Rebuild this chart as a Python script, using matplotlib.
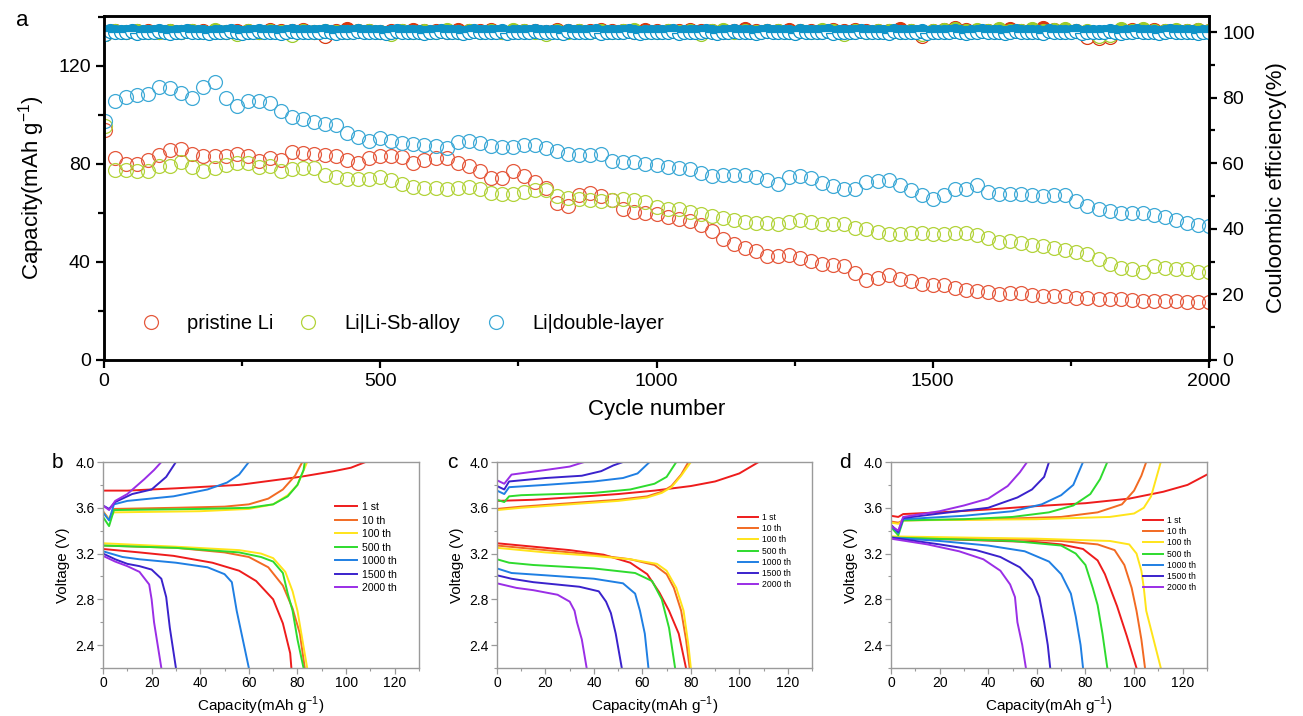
import matplotlib
matplotlib.use("Agg")
import matplotlib.pyplot as plt
import numpy as np
from matplotlib.ticker import MultipleLocator, FormatStrFormatter

plt.rcParams['font.family'] = ['Liberation Sans', 'DejaVu Sans']
plt.rcParams['mathtext.fontset'] = 'custom'
plt.rcParams['mathtext.rm'] = 'Liberation Sans'

# ---------------- panel a: cycling data ----------------
cycles = np.r_[2, np.arange(20, 2001, 20)]
cycles_fine = np.r_[2, np.arange(10, 2001, 10)]

cap_pristine = [
    94.0, 82.6, 80.0, 80.0, 81.5, 83.5, 85.5, 86.3, 84.0, 83.3,
    83.3, 83.3, 84.0, 83.3, 81.2, 82.3, 81.5, 85.0, 84.3, 84.0,
    83.8, 83.1, 81.8, 80.5, 82.6, 83.3, 83.3, 83.0, 80.5, 81.5,
    82.3, 82.4, 80.5, 79.0, 77.1, 74.4, 74.4, 77.0, 75.0, 72.6,
    70.3, 64.2, 63.0, 67.4, 68.3, 67.0, 65.2, 61.5, 60.5, 60.0,
    59.5, 58.5, 57.7, 56.8, 55.0, 52.5, 49.5, 47.3, 45.6, 44.5,
    42.3, 42.6, 42.8, 41.6, 40.4, 39.2, 38.6, 38.2, 35.5, 32.8,
    33.5, 34.5, 33.2, 32.2, 31.2, 30.5, 30.6, 29.3, 28.6, 28.2,
    27.6, 26.8, 27.2, 27.4, 26.6, 26.1, 26.1, 26.0, 25.5, 25.1,
    24.7, 24.7, 24.7, 24.3, 24.1, 24.1, 24.1, 23.9, 23.8, 23.8, 23.8]

cap_alloy = [
    95.5, 77.5, 77.5, 77.1, 77.1, 79.0, 79.2, 81.0, 78.7, 77.1,
    78.3, 79.6, 80.5, 80.5, 78.6, 79.0, 77.3, 77.8, 78.5, 78.5,
    75.5, 74.6, 74.0, 73.7, 74.0, 74.6, 73.6, 71.9, 70.6, 70.3,
    70.0, 69.8, 70.3, 70.5, 69.6, 68.3, 67.9, 67.6, 68.6, 69.4,
    69.3, 67.0, 66.2, 65.7, 65.3, 64.9, 65.3, 65.6, 65.2, 64.6,
    62.5, 61.5, 61.5, 60.5, 59.5, 58.8, 57.9, 57.0, 56.5, 56.1,
    55.8, 55.4, 56.2, 57.2, 56.3, 55.4, 55.4, 55.4, 53.9, 53.4,
    52.3, 51.5, 51.6, 52.0, 52.0, 51.4, 51.3, 51.8, 51.8, 51.1,
    49.8, 48.0, 48.4, 47.7, 46.9, 46.4, 45.8, 44.7, 44.0, 43.1,
    41.4, 39.3, 37.7, 37.1, 35.8, 38.3, 37.6, 37.0, 37.0, 36.0, 35.8]

cap_double = [
    97.5, 105.5, 107.5, 108.0, 108.5, 111.5, 111.0, 109.0, 107.0, 111.5,
    113.5, 107.0, 103.5, 105.5, 105.5, 104.8, 101.5, 99.0, 98.5, 97.0,
    96.5, 96.0, 92.8, 91.0, 89.4, 90.5, 89.5, 88.7, 88.2, 87.7,
    87.3, 86.5, 88.8, 89.5, 88.5, 87.3, 87.0, 87.0, 87.8, 87.8,
    86.5, 85.3, 84.2, 83.8, 83.5, 84.0, 81.2, 81.0, 80.7, 80.1,
    79.5, 78.6, 78.3, 78.0, 76.5, 75.1, 75.5, 75.6, 75.3, 74.8,
    73.3, 71.8, 74.7, 75.0, 74.3, 72.2, 71.2, 69.8, 69.6, 72.8,
    73.0, 73.5, 71.5, 69.3, 67.5, 65.8, 67.5, 69.7, 69.7, 71.5,
    68.6, 67.8, 67.6, 67.6, 67.3, 67.0, 67.3, 67.3, 64.8, 63.0,
    61.6, 60.8, 60.1, 60.1, 60.0, 59.2, 58.4, 57.2, 55.8, 55.0, 54.6]

ce_pristine = [
    99.4, 100.3, 100.1, 100.4, 100.2, 100.0, 100.3, 100.1, 100.4, 100.2,
    100.3, 100.0, 100.2, 100.4, 100.1, 100.6, 100.3, 100.2, 100.7, 100.1,
    98.8, 100.4, 100.8, 100.3, 100.2, 100.1, 100.4, 100.2, 100.5, 100.3,
    100.2, 100.1, 100.5, 100.3, 100.2, 100.6, 100.0, 100.3, 100.2, 100.4,
    100.1, 100.5, 100.3, 100.2, 100.4, 100.6, 100.2, 100.3, 100.1, 100.5,
    100.2, 100.4, 100.3, 100.7, 100.2, 100.4, 100.1, 100.3, 100.8, 100.2,
    100.4, 100.3, 100.6, 100.2, 100.4, 100.3, 100.5, 100.2, 100.6, 100.3,
    100.4, 100.2, 100.9, 100.3, 98.9, 100.4, 100.6, 101.3, 100.5, 100.4,
    100.3, 100.5, 101.0, 100.4, 100.6, 101.4, 100.5, 100.3, 100.4, 98.4,
    98.2, 98.6, 100.4, 100.6, 100.3, 100.5, 100.2, 100.4, 100.3, 100.6, 100.4]

ce_alloy = [
    99.3, 100.2, 100.0, 100.3, 100.1, 99.9, 100.2, 100.0, 100.3, 100.1,
    100.6, 100.1, 99.3, 100.2, 100.0, 100.3, 100.1, 99.2, 100.2, 100.0,
    100.3, 100.1, 99.9, 100.2, 100.4, 100.0, 99.3, 100.2, 100.1, 100.3,
    100.0, 100.5, 100.1, 100.2, 99.9, 100.3, 100.0, 100.6, 100.2, 100.1,
    99.3, 100.2, 100.0, 100.4, 100.1, 100.3, 100.0, 100.2, 100.5, 100.1,
    100.0, 100.3, 100.1, 100.4, 99.4, 100.2, 100.6, 100.1, 100.3, 100.0,
    100.2, 100.4, 100.1, 100.3, 100.0, 100.5, 100.2, 99.3, 100.3, 100.1,
    100.4, 100.2, 100.0, 100.3, 99.4, 100.2, 100.5, 100.9, 100.3, 100.6,
    100.2, 100.8, 100.4, 100.3, 100.9, 100.2, 100.5, 100.8, 100.3, 100.4,
    98.9, 99.0, 100.8, 100.3, 100.9, 100.2, 100.4, 100.7, 100.3, 100.6, 100.4]

# double-layer CE is read every 10 cycles (cycles_fine)
ce_double = [
    99.5, 100.2, 100.0, 99.9, 100.1, 100.2, 99.8, 100.0, 100.1, 99.9, 100.2, 100.0, 99.8, 100.1, 100.0, 100.2, 99.9, 100.1, 100.0, 99.8,
    100.1, 100.0, 99.9, 100.2, 100.0, 99.8, 100.1, 100.0, 100.2, 99.9, 100.0, 100.1, 99.8, 100.0, 100.2, 100.0, 99.9, 100.1, 100.0, 99.9,
    100.2, 100.0, 99.8, 100.1, 100.0, 99.9, 100.2, 100.1, 99.9, 100.0, 100.1, 99.8, 100.0, 100.2, 100.0, 99.9, 100.1, 100.0, 99.8, 100.1,
    100.0, 100.2, 99.9, 100.0, 100.1, 99.8, 100.0, 100.2, 100.0, 99.9, 100.1, 100.0, 100.2, 99.8, 100.0, 100.1, 99.9, 100.0, 100.2, 100.0,
    99.9, 100.1, 100.0, 99.8, 100.2, 100.0, 99.9, 100.1, 100.0, 100.2, 99.8, 100.0, 100.1, 99.9, 100.0, 100.2, 100.0, 99.8, 100.1, 100.0,
    100.1, 99.9, 100.0, 100.2, 99.8, 100.0, 100.1, 100.0, 99.9, 100.2, 100.0, 99.8, 100.1, 100.0, 100.2, 99.9, 100.0, 100.1, 99.8, 100.0,
    100.2, 100.0, 99.9, 100.1, 100.0, 99.8, 100.2, 100.0, 99.9, 100.1, 100.0, 100.2, 99.8, 100.0, 100.1, 99.9, 100.0, 100.2, 100.0, 99.9,
    100.1, 100.0, 99.8, 100.2, 100.0, 99.9, 100.1, 100.0, 100.2, 99.8, 100.0, 100.1, 99.9, 100.0, 100.2, 100.0, 99.8, 100.1, 100.0, 100.2,
    99.9, 100.0, 100.1, 99.8, 100.0, 100.2, 100.0, 99.9, 100.1, 100.0, 99.8, 100.2, 100.0, 99.9, 100.1, 100.0, 100.2, 99.8, 100.0, 100.1,
    99.9, 100.0, 100.2, 100.0, 99.8, 100.1, 100.0, 100.2, 99.9, 100.0, 100.1, 99.8, 100.0, 100.2, 100.0, 99.9, 100.1, 100.0, 99.8, 100.1,
    100.0]

series_names = ['pristine Li', 'Li|Li-Sb-alloy', 'Li|double-layer']
cap_colors = ['#E5593D', '#B3D33B', '#3DA9D6']
ce_colors = ['#D9380F', '#9CCB2A', '#0E93C8']

# ---------------- panels b-d: charge/discharge profiles ----------------
cycle_labels = ['1 st', '10 th', '100 th', '500 th', '1000 th', '1500 th', '2000 th']
curve_colors = ['#EE1C1C', '#F26A22', '#FFE41A', '#2EDB2E', '#1F7FE3', '#3A22CC', '#9A2EE6']

# (capacity, voltage) pairs
b_charge = {
    '1 st': ([0, 10, 30, 56, 81, 95, 102, 108], [3.75, 3.75, 3.77, 3.80, 3.87, 3.92, 3.95, 4.0]),
    '10 th': ([0, 2.5, 4.5, 30, 50, 60, 68, 74, 79, 82], [3.57, 3.50, 3.59, 3.60, 3.61, 3.63, 3.68, 3.76, 3.88, 4.0]),
    '100 th': ([0, 2.5, 4.5, 40, 60, 70, 76, 80, 83, 84], [3.56, 3.50, 3.56, 3.57, 3.59, 3.63, 3.71, 3.80, 3.95, 4.0]),
    '500 th': ([0, 2.5, 4.5, 40, 60, 70, 76, 80, 82.5, 83], [3.52, 3.44, 3.58, 3.59, 3.60, 3.63, 3.70, 3.80, 3.93, 4.0]),
    '1000 th': ([0, 2.5, 4.5, 10, 29, 43, 51, 56, 60], [3.56, 3.49, 3.63, 3.66, 3.70, 3.76, 3.82, 3.89, 4.0]),
    '1500 th': ([0, 2.5, 5, 12, 20, 26, 30], [3.62, 3.59, 3.65, 3.72, 3.76, 3.87, 4.0]),
    '2000 th': ([0, 2.5, 5, 10, 17, 21, 24], [3.62, 3.58, 3.66, 3.72, 3.85, 3.93, 4.0]),
}
b_discharge = {
    '1 st': ([0, 15, 29, 45, 56, 63, 70, 74, 77, 77.5], [3.24, 3.21, 3.18, 3.12, 3.05, 2.96, 2.80, 2.59, 2.33, 2.2]),
    '10 th': ([0, 30, 50, 60, 68, 74, 78, 81, 83], [3.27, 3.25, 3.21, 3.17, 3.08, 2.92, 2.72, 2.50, 2.2]),
    '100 th': ([0, 30, 56, 65, 70, 75, 78, 80, 82, 84], [3.29, 3.26, 3.23, 3.20, 3.16, 3.04, 2.87, 2.70, 2.45, 2.2]),
    '500 th': ([0, 30, 56, 65, 70, 74, 76, 78, 80, 82.5], [3.27, 3.25, 3.21, 3.17, 3.13, 3.03, 2.85, 2.70, 2.45, 2.2]),
    '1000 th': ([0, 8, 15, 30, 43, 50, 53, 55, 57.5, 60], [3.22, 3.17, 3.15, 3.12, 3.08, 3.02, 2.95, 2.70, 2.45, 2.2]),
    '1500 th': ([0, 5, 10, 15, 20, 24, 26, 27.5, 30], [3.20, 3.15, 3.11, 3.09, 3.06, 2.98, 2.82, 2.55, 2.2]),
    '2000 th': ([0, 5, 10, 15, 19, 20, 21, 22.5, 24], [3.18, 3.13, 3.09, 3.04, 2.93, 2.80, 2.60, 2.40, 2.2]),
}

c_charge = {
    '1 st': ([0, 15, 30, 50, 65, 80, 90, 100, 108], [3.66, 3.67, 3.69, 3.72, 3.75, 3.79, 3.83, 3.90, 4.0]),
    '10 th': ([0, 10, 30, 50, 62, 68, 72, 76, 79], [3.59, 3.61, 3.64, 3.67, 3.70, 3.74, 3.79, 3.89, 4.0]),
    '100 th': ([0, 10, 30, 50, 62, 68, 72, 76, 80], [3.58, 3.60, 3.63, 3.66, 3.69, 3.73, 3.78, 3.88, 4.0]),
    '500 th': ([0, 3, 5, 10, 40, 55, 65, 70, 74], [3.67, 3.65, 3.70, 3.71, 3.73, 3.76, 3.81, 3.87, 4.0]),
    '1000 th': ([0, 3, 5, 20, 40, 52, 58, 63], [3.75, 3.72, 3.78, 3.80, 3.83, 3.86, 3.90, 4.0]),
    '1500 th': ([0, 3, 5, 20, 35, 43, 48, 52], [3.79, 3.76, 3.83, 3.86, 3.88, 3.92, 3.97, 4.0]),
    '2000 th': ([0, 3, 6, 20, 30, 36], [3.84, 3.81, 3.89, 3.93, 3.96, 4.0]),
}
c_discharge = {
    '1 st': ([0, 15, 30, 44, 55, 62, 67, 71, 75, 78], [3.29, 3.26, 3.23, 3.19, 3.12, 3.02, 2.86, 2.70, 2.50, 2.2]),
    '10 th': ([0, 20, 40, 55, 65, 70, 73, 76, 78, 79.5], [3.27, 3.23, 3.19, 3.15, 3.10, 3.02, 2.90, 2.70, 2.45, 2.2]),
    '100 th': ([0, 20, 40, 55, 66, 70, 74, 77, 79, 80], [3.25, 3.21, 3.18, 3.15, 3.11, 3.05, 2.90, 2.70, 2.40, 2.2]),
    '500 th': ([0, 5, 15, 40, 57, 64, 68, 71, 73.5], [3.15, 3.12, 3.10, 3.07, 3.03, 2.96, 2.80, 2.55, 2.2]),
    '1000 th': ([0, 6, 20, 40, 52, 57, 59, 61, 62.5], [3.07, 3.03, 3.01, 2.98, 2.94, 2.85, 2.70, 2.50, 2.2]),
    '1500 th': ([0, 6, 15, 34, 42, 45, 47, 49, 51.5], [3.01, 2.98, 2.95, 2.91, 2.87, 2.78, 2.68, 2.50, 2.2]),
    '2000 th': ([0, 8, 15, 25, 30, 32, 33, 35, 37], [2.94, 2.90, 2.88, 2.84, 2.78, 2.70, 2.60, 2.45, 2.2]),
}

d_charge = {
    '1 st': ([0, 3, 5, 20, 40, 60, 80, 98, 112, 122, 130], [3.53, 3.52, 3.545, 3.56, 3.585, 3.615, 3.64, 3.68, 3.74, 3.80, 3.89]),
    '10 th': ([0, 3, 5, 40, 70, 85, 95, 100, 103, 105], [3.48, 3.47, 3.49, 3.50, 3.52, 3.56, 3.63, 3.75, 3.88, 4.0]),
    '100 th': ([0, 3, 5, 60, 90, 100, 104, 107, 109, 111], [3.47, 3.46, 3.49, 3.50, 3.52, 3.55, 3.60, 3.70, 3.85, 4.0]),
    '500 th': ([0, 3, 5, 30, 50, 65, 75, 82, 86, 89], [3.43, 3.36, 3.49, 3.50, 3.52, 3.56, 3.62, 3.72, 3.85, 4.0]),
    '1000 th': ([0, 3, 5, 30, 50, 62, 70, 75, 79], [3.44, 3.38, 3.50, 3.53, 3.57, 3.63, 3.71, 3.80, 4.0]),
    '1500 th': ([0, 3, 5, 20, 40, 52, 58, 63, 65], [3.45, 3.39, 3.51, 3.55, 3.60, 3.69, 3.76, 3.87, 4.0]),
    '2000 th': ([0, 3, 5, 20, 30, 40, 48, 53, 56], [3.44, 3.40, 3.52, 3.57, 3.62, 3.68, 3.79, 3.91, 4.0]),
}
d_discharge = {
    '1 st': ([0, 30, 60, 70, 79, 85, 88, 93, 97, 101], [3.34, 3.32, 3.30, 3.28, 3.24, 3.14, 3.02, 2.74, 2.48, 2.2]),
    '10 th': ([0, 40, 70, 85, 92, 96, 99, 101, 103, 104.5], [3.34, 3.33, 3.31, 3.28, 3.23, 3.10, 2.90, 2.70, 2.45, 2.2]),
    '100 th': ([0, 60, 90, 98, 101, 103, 104, 105, 108, 111], [3.35, 3.33, 3.31, 3.28, 3.20, 3.05, 2.90, 2.70, 2.45, 2.2]),
    '500 th': ([0, 50, 70, 76, 80, 83, 85, 87, 89], [3.34, 3.31, 3.27, 3.20, 3.10, 2.90, 2.75, 2.50, 2.2]),
    '1000 th': ([0, 20, 40, 55, 65, 70, 74, 76, 78, 79], [3.34, 3.31, 3.27, 3.22, 3.13, 3.02, 2.85, 2.65, 2.40, 2.2]),
    '1500 th': ([0, 20, 35, 45, 53, 58, 61, 63, 64.5, 65.5], [3.34, 3.28, 3.23, 3.17, 3.08, 2.97, 2.82, 2.60, 2.40, 2.2]),
    '2000 th': ([0, 15, 28, 38, 45, 49, 51, 52, 54, 55.5], [3.33, 3.28, 3.22, 3.15, 3.05, 2.93, 2.82, 2.60, 2.40, 2.2]),
}


def style_profile_axis(ax):
    ax.set_xlim(0, 130)
    ax.set_ylim(2.2, 4.0)
    ax.xaxis.set_major_locator(MultipleLocator(20))
    ax.xaxis.set_minor_locator(MultipleLocator(10))
    ax.yaxis.set_major_locator(MultipleLocator(0.4))
    ax.yaxis.set_minor_locator(MultipleLocator(0.2))
    ax.yaxis.set_major_formatter(FormatStrFormatter('%.1f'))
    for sp in ax.spines.values():
        sp.set_color('#9a9a9a')
        sp.set_linewidth(1.0)
    ax.tick_params(which='both', direction='out', color='#9a9a9a', labelsize=10, top=False, right=False)
    ax.tick_params(which='major', length=4, width=0.9, pad=2)
    ax.tick_params(which='minor', length=2.5, width=0.8)
    ax.set_xlabel('Capacity(mAh g$^{\\mathregular{-1}}$)', fontsize=11, labelpad=3)
    ax.set_ylabel('Voltage (V)', fontsize=11, labelpad=4)


def draw_profiles(ax, charge, discharge, leg_anchor, leg_size, leg_spacing, leg_len):
    for lab, col in zip(cycle_labels, curve_colors):
        q, v = discharge[lab]
        ax.plot(q, v, color=col, lw=1.4, label=lab, solid_joinstyle='round')
        q, v = charge[lab]
        ax.plot(q, v, color=col, lw=1.4, solid_joinstyle='round')
    style_profile_axis(ax)
    ax.legend(loc='upper left', bbox_to_anchor=leg_anchor, frameon=False, fontsize=leg_size,
              borderpad=0, borderaxespad=0, handlelength=leg_len, handletextpad=0.5,
              labelspacing=leg_spacing)


W, H = 1303, 716
fig = plt.figure(figsize=(W / 100, H / 100), dpi=100)

# ---- panel a ----
ax = fig.add_axes([104 / W, 1 - 360 / H, 1105 / W, 344.3 / H])
handles = []
for cap, col, name in zip([cap_pristine, cap_alloy, cap_double], cap_colors, series_names):
    h, = ax.plot(cycles, cap, ls='none', marker='o', ms=10, mfc='none', mec=col, mew=0.9, label=name)
    handles.append(h)
ax.set_xlim(0, 2000)
ax.set_ylim(0, 140.5)
ax.xaxis.set_major_locator(MultipleLocator(500))
ax.xaxis.set_minor_locator(MultipleLocator(250))
ax.yaxis.set_major_locator(MultipleLocator(40))
ax.yaxis.set_minor_locator(MultipleLocator(20))
ax.tick_params(which='both', direction='out', labelsize=14, width=1.6, top=False, right=False)
ax.tick_params(which='major', length=6)
ax.tick_params(which='minor', length=4)
for sp in ax.spines.values():
    sp.set_linewidth(1.8)
ax.set_xlabel('Cycle number', fontsize=16, labelpad=6)
ax.set_ylabel('Capacity(mAh g$^{\\mathregular{-1}}$)', fontsize=16, labelpad=8)

ax2 = ax.twinx()
for xs, ce, col in zip([cycles, cycles, cycles_fine], [ce_pristine, ce_alloy, ce_double], ce_colors):
    ax2.plot(xs, ce, ls='none', marker='o', ms=10, fillstyle='top', mfc=col,
             mfcalt='white', mec=col, mew=0.9)
ax2.set_ylim(0, 105)
ax2.yaxis.set_major_locator(MultipleLocator(20))
ax2.yaxis.set_minor_locator(MultipleLocator(10))
ax2.tick_params(which='both', direction='out', labelsize=14, width=1.6)
ax2.tick_params(which='major', length=6)
ax2.tick_params(which='minor', length=4)
for sp in ax2.spines.values():
    sp.set_linewidth(1.8)
ax2.set_ylabel('Couloombic efficiency(%)', fontsize=16, labelpad=8)

ax.legend(handles=handles, loc='center left', bbox_to_anchor=(0.033, 0.107), ncol=3,
          frameon=False, fontsize=14.5, borderpad=0, borderaxespad=0, handlelength=1.0,
          handletextpad=1.3, columnspacing=1.25, numpoints=1)

fig.text(22 / W, 1 - 20 / H, 'a', fontsize=16, va='center', ha='center')

# ---- panels b, c, d ----
axb = fig.add_axes([103 / W, 1 - 668 / H, 316 / W, 206 / H])
draw_profiles(axb, b_charge, b_discharge, (0.734, 0.805), 7.6, 0.33, 2.1)
axc = fig.add_axes([497 / W, 1 - 668 / H, 315 / W, 206 / H])
draw_profiles(axc, c_charge, c_discharge, (0.765, 0.752), 6.2, 0.25, 2.3)
axd = fig.add_axes([891 / W, 1 - 668 / H, 316 / W, 206 / H])
draw_profiles(axd, d_charge, d_discharge, (0.797, 0.737), 6.2, 0.25, 2.3)

for letter, xp in zip(['b', 'c', 'd'], [57, 452, 845]):
    fig.text(xp / W, 1 - 463 / H, letter, fontsize=15, va='center', ha='center')

fig.savefig('out.png', dpi=100)
